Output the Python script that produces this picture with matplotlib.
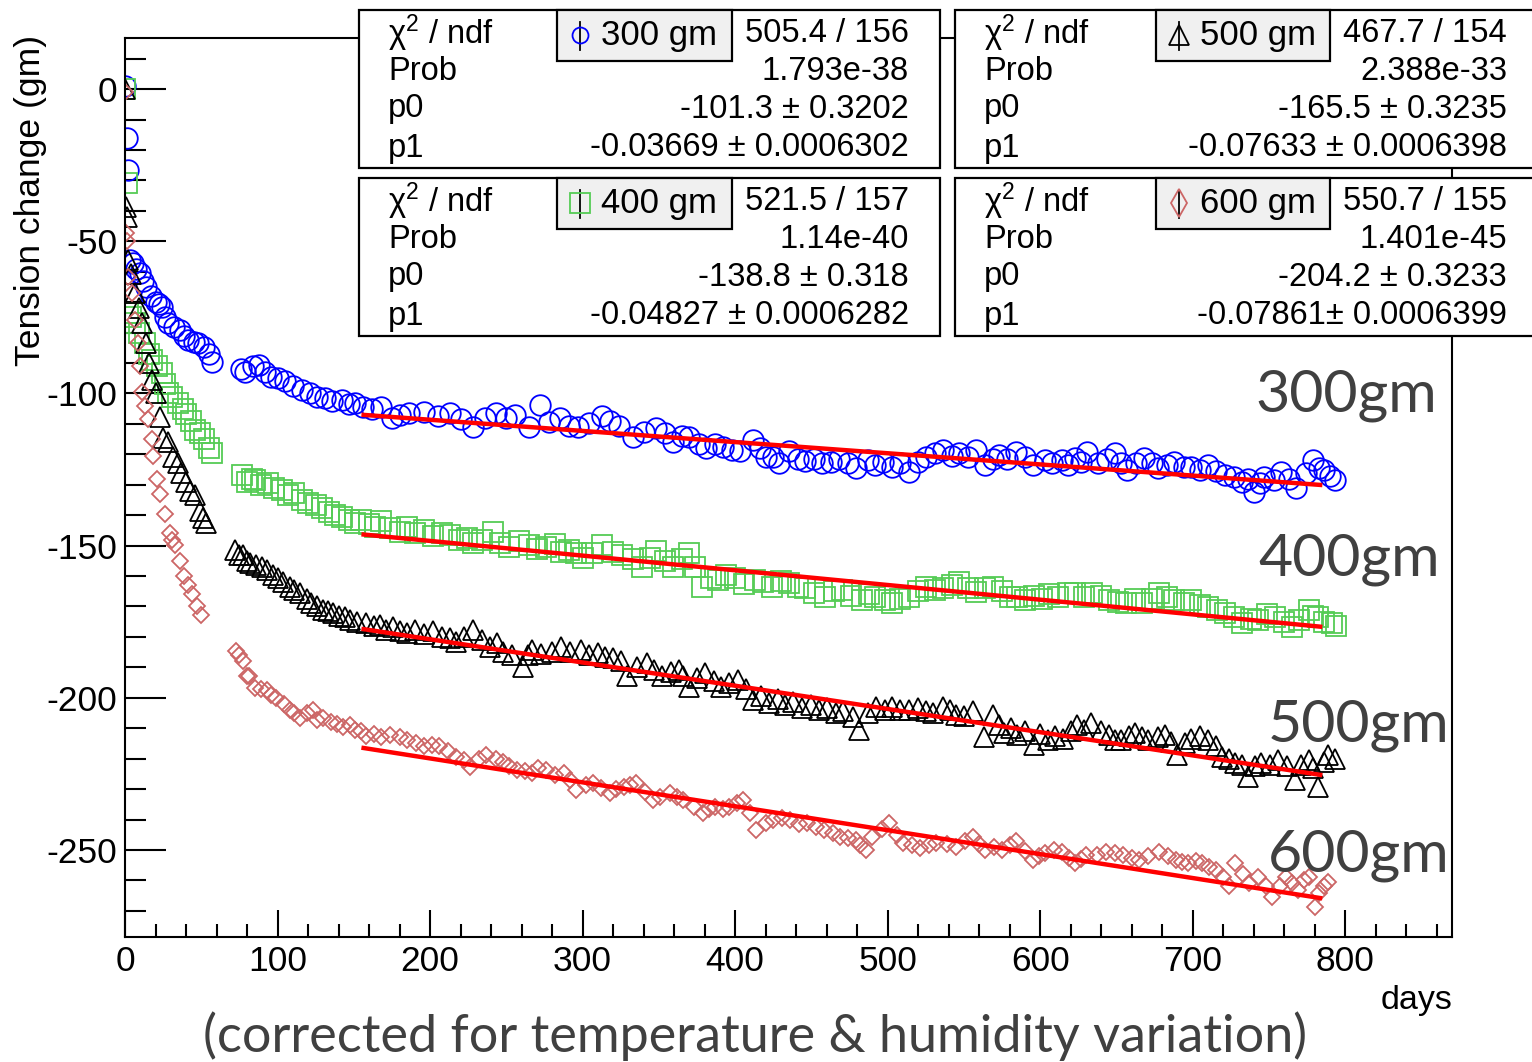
import matplotlib
matplotlib.use('Agg')
import matplotlib.pyplot as plt
from matplotlib.patches import Rectangle
from matplotlib.ticker import MultipleLocator
import numpy as np

plt.rcParams['font.family'] = ['Liberation Sans', 'DejaVu Sans']
plt.rcParams['axes.unicode_minus'] = False
plt.rcParams['mathtext.fontset'] = 'custom'
plt.rcParams['mathtext.rm'] = 'Liberation Sans'
plt.rcParams['mathtext.it'] = 'Liberation Sans:italic'
plt.rcParams['mathtext.bf'] = 'Liberation Sans:bold'

# ---------------- data ----------------
days_300 = [0, 1, 2, 3, 5, 7, 10, 12, 14, 17, 20, 22, 24, 26, 28, 32, 36, 39, 41, 45, 48, 52, 55, 57,
            76, 79, 84, 88, 92, 96, 100, 105, 110, 116, 121, 126, 131, 136, 142, 147, 151, 156, 162, 168, 175,
            180, 186, 196, 205, 213, 220, 228, 236, 243, 250, 256, 265, 272, 278, 285, 291, 297, 304, 313, 318,
            324, 333, 340, 348, 354, 359, 365, 370, 376, 381, 387, 392, 398, 403, 412, 416, 420, 425, 429, 435,
            441, 446, 452, 457, 463, 468, 474, 479, 487, 492, 497, 503, 508, 514, 520, 525, 531, 536, 542, 547,
            553, 558, 564, 569, 573, 578, 584, 590, 595, 603, 608, 614, 618, 623, 627, 631, 638, 644, 649, 653,
            657, 663, 668, 673, 677, 683, 688, 694, 699, 705, 710, 715, 721, 727, 732, 736, 740, 744, 747, 753,
            758, 763, 768, 774, 779, 783, 786, 790, 793]
tension_300 = [1, -16, -26.6, -56, -57, -59, -60.5, -63, -65, -68, -70, -70.5, -71.5, -75, -77, -78, -79, -81,
               -82.5, -83, -83.5, -84.6, -87, -89.6,
               -92, -93, -91, -90.7, -93, -94.5, -95, -96, -97.5, -99, -100, -101, -101.5, -102.5, -102, -103.5,
               -103, -104.5, -105, -104.4, -108,
               -107, -106.5, -106, -107.5, -106.5, -108.5, -111, -108, -106.5, -108, -107, -111, -103.8, -109.5,
               -108, -110.6, -111, -109.6, -107.5, -109, -110.6, -114.2, -112.5, -111.5, -113, -115.9, -114,
               -114.2, -116.5, -118, -116.5, -117.5, -118.5, -119, -115.4, -118, -120.8, -121, -123, -119,
               -121.5, -122.3, -121.5, -123, -122.5, -121.5, -123, -124.6, -122, -123.5, -122.5, -124, -123,
               -125.7, -122.5, -120.8, -119.5, -118.6, -120.5, -119.7, -121, -118.6, -123.5, -121.5, -120.2,
               -121.5, -119.1, -121, -123.5, -121.9, -123, -121.9, -123.5, -121.3, -122.5, -119.1, -123, -121.5,
               -119.7, -123, -125.2, -123, -121.3, -123, -124.6, -123.5, -122.4, -124, -124.1, -125, -123.5,
               -125.5, -126.8, -127.5, -129, -128, -132.3, -129.5, -127.4, -128.5, -125.7, -128, -131.2, -126,
               -121.9, -124.5, -125.2, -127, -128.5]

days_400 = [0, 1, 2, 4, 6.5, 9, 13, 16, 18, 21, 24, 26, 28, 31, 35, 38, 40, 43, 46, 49, 52, 55, 57,
            77, 80, 83, 85, 89, 94, 98, 103, 107, 111, 116, 120, 125, 129, 134, 138, 142, 147, 151, 155, 160,
            164, 168, 174, 180, 185, 190, 196, 202, 208, 213, 219, 224, 228, 234, 241, 246, 252, 258, 265, 270,
            276, 282, 286, 291, 296, 300, 306, 313, 320, 326, 333, 339, 344, 348, 354, 359, 365, 370, 374, 378,
            384, 389, 394, 400, 406, 413, 418, 424, 430, 435, 441, 446, 452, 459, 465, 470, 476, 483, 488, 492,
            498, 503, 508, 514, 520, 525, 531, 536, 542, 547, 553, 558, 564, 569, 575, 580, 585, 590, 596, 601,
            606, 612, 618, 623, 629, 634, 640, 645, 651, 656, 662, 667, 673, 678, 683, 688, 694, 699, 705, 710,
            716, 721, 727, 732, 738, 743, 749, 754, 760, 765, 770, 776, 779, 782, 786, 791, 794]
tension_400 = [0, -30.8, -73.6, -75, -77, -80, -83.5, -87, -89, -91, -93.4, -97, -100, -101, -103, -105,
               -106.6, -109, -112, -113, -115, -118, -119.6,
               -126.8, -129, -128, -128.5, -130, -129.5, -131, -131.7, -133.5, -132.8, -135, -136, -136.5,
               -137.6, -139, -140, -140.5, -141.5, -142.5, -141.6, -143, -144, -142, -144.3, -145.5, -144, -146,
               -144.9, -147, -146, -146.5, -148, -147.5, -149.3, -148, -145.4, -149, -150.3, -148.5, -149.8,
               -151, -150.3, -149.5, -152, -151.4, -152.5, -154.2, -152.5, -149.8, -152, -153, -154.5, -156.9,
               -154, -151.9, -155, -156.9, -154.5, -152.5, -157, -163.5, -160.5, -161.3, -159.5, -160.7, -162.5,
               -161.3, -162, -163.5, -161.5, -162.4, -163.5, -164, -165.5, -166.8, -165, -164.6, -166.5, -167.9,
               -166, -166.8, -168, -169, -167.5, -166.8, -165, -163.5, -164.5, -164, -163, -161.8, -164, -165.1,
               -164, -163.5, -165, -166.8, -167, -167.9, -166.5, -167.4, -166, -166.8, -165.5, -165.7, -167,
               -165.7, -166.5, -167.9, -168.5, -169, -167.5, -169, -167.5, -165.7, -167, -167.9, -169, -167.9,
               -169.5, -170.1, -171, -172.3, -173.5, -175.5, -174, -174.4, -172.5, -173.3, -175, -176.6, -174.5,
               -171.2, -173, -173.3, -175, -175.5, -176.5]

days_500 = [0, 0.5, 1, 2, 4, 6.5, 9, 11, 14, 16, 17.5, 20, 23, 25, 28, 31.7, 35, 37, 40, 42.6, 46, 49, 51, 53,
            72, 75, 77.6, 80, 82, 86, 90, 93, 97, 100, 103.6, 108, 111, 115, 119, 122, 125.6, 130, 133, 136.5,
            140, 144, 147.5, 152, 158, 163, 167, 171, 176, 180, 184.6, 190, 196, 202, 208, 213, 217, 222, 228,
            234, 239, 244, 248, 254, 261, 264, 267, 273, 280, 286, 292, 299, 304, 310, 315, 320, 325, 329, 336,
            342, 347, 352, 358, 363, 366, 370, 375, 380, 386, 391, 396, 402, 407, 412, 417, 422, 428, 433, 438,
            444, 450, 455, 460, 466, 471, 477, 481, 487, 492.5, 498, 503, 508, 514, 520, 525, 530, 536, 541, 545,
            550, 556, 563, 569, 573, 576, 581, 585, 590, 596, 600, 605, 610, 615, 620, 624, 629, 633, 640, 645,
            649, 653, 658, 662, 667, 671, 677, 682, 686, 690, 695, 699, 705, 710, 715, 719, 724, 728, 732, 736,
            741, 745, 751, 756, 762, 767, 771, 776, 779, 782, 786, 789, 793]
tension_500 = [0, -38.7, -42, -56, -60.6, -67, -72, -77, -83.5, -90, -95.6, -100, -107.6, -114.5, -116, -121,
               -123, -126, -129, -132, -133.5, -138.6, -141, -142.6,
               -151.4, -153, -153, -155, -155.8, -156.5, -157, -158, -159.5, -160.5, -162, -163.5, -164.5,
               -165.6, -167.5, -169, -170, -171, -171.5, -172, -173, -173.5, -174.4, -175, -175.5, -176.5, -176,
               -177.7, -176.6, -178, -178.8, -177.7, -179, -178.2, -180, -180.5, -181.6, -180, -177.7, -181,
               -183.2, -182, -184.8, -186, -189.8, -186, -184.3, -185.5, -184.8, -183.2, -185, -184.3, -186,
               -185.4, -186.5, -187, -188, -193, -190, -188.7, -191, -193, -191.5, -190.9, -193, -196.3, -193.5,
               -192, -194.5, -196.3, -195, -194.1, -197, -200.7, -199.5, -201.8, -200.5, -202.4, -201.5, -203.5,
               -202.5, -204, -203.5, -205.1, -204.5, -206.2, -210.6, -205, -202.9, -204, -202.9, -204, -204,
               -203.5, -204.5, -205, -202.9, -204, -205.6, -206, -204.5, -212.8, -205.6, -209, -211.7, -210,
               -212.3, -211, -215.5, -212, -213.9, -212.5, -213.4, -211, -209, -210.5, -208.4, -211, -212.3,
               -214, -213.9, -212.5, -211.7, -213, -213.9, -213, -212.3, -214.5, -218.8, -215, -213.4, -212.5,
               -213.9, -216, -219.3, -220, -221.5, -222, -225.9, -222.5, -221.5, -222, -220.4, -222.5, -227,
               -222, -220.4, -223, -229.2, -221, -218.8, -220]

days_600 = [0, 0.5, 1, 2, 4.4, 6.5, 8.7, 10, 11, 13, 15, 17.5, 18.6, 21, 23, 26, 29.5, 31, 33, 36, 39, 41,
            43.7, 47, 50,
            73, 75, 77.6, 80, 81, 85, 89, 93, 96, 99, 104, 108, 111, 115, 119, 123, 125.6, 130, 135, 139, 143,
            147.5, 151, 155, 158, 163, 168, 174, 180, 185, 191, 196, 201, 206, 212, 217, 222, 226, 232, 237,
            243, 248, 252, 257, 262, 267, 271, 276, 282, 288, 292, 296, 302, 307, 312, 318, 322, 327, 331, 335,
            341, 346, 351, 357, 362, 366, 373, 379, 383, 387, 392, 396, 401, 405, 410, 414, 420, 425, 431, 436,
            442, 447, 453, 458, 464, 469, 474, 479, 482, 486, 490, 496, 501, 506, 510, 516, 521, 527, 532, 539,
            545, 551, 556, 560, 564, 570, 575, 580, 584, 590, 595, 599, 603, 609, 614, 619, 623, 627, 630, 637,
            643, 649, 654, 660, 665, 671, 678, 684, 689, 693, 697, 702, 706, 711, 715, 720, 724, 728, 733, 737,
            743, 748, 752, 757, 761, 765, 769, 773, 776, 780, 783, 786, 789]
tension_600 = [-1, -47.3, -50, -61.6, -67, -76, -83.5, -91, -99.5, -104, -108.5, -115, -120.5, -128, -133,
               -139.6, -146, -148, -149.8, -155, -160, -163, -166, -170, -172.7,
               -184.5, -186, -188, -193, -193, -196.7, -197, -197.5, -199, -200, -202, -204, -205, -206.5, -205,
               -204, -207.3, -206.8, -208, -208.5, -209.5, -209, -210.5, -211, -212.7, -212, -213, -212.2, -213,
               -213.8, -215, -216, -215.5, -216, -217.5, -219.3, -220.5, -222.6, -220, -218.8, -220, -221,
               -222.5, -223.7, -224, -224.8, -223, -223.7, -225.5, -224.8, -227, -230.3, -228.5, -228.1, -229.5,
               -231.4, -230, -229.2, -228.5, -228.1, -231, -233.6, -232.5, -231.4, -232.5, -233.6, -236, -238,
               -236.5, -235.8, -236.5, -235.8, -234.5, -233.6, -238, -243.4, -241, -240.2, -239.5, -240.2,
               -241.5, -241.3, -242.5, -243.4, -244.5, -245.6, -246, -246.7, -248.4, -250, -245.7, -243, -241.2,
               -245, -247.8, -248.5, -249.5, -248.5, -247.8, -248, -248.9, -247, -245.7, -248, -250, -249, -250,
               -248.5, -247.2, -250.5, -253.3, -252, -251.1, -250, -250.6, -252.5, -254.4, -253, -251.7, -251.5,
               -250.6, -251, -251.7, -252.5, -253.3, -252, -250.6, -252, -253.3, -254, -254.4, -253.5, -254.4,
               -255.5, -256.6, -259, -262, -254.4, -258, -260.9, -258.8, -262, -265.3, -262, -258.8, -261,
               -263.1, -260, -258.8, -268.6, -264, -262, -260.5]

# fit results shown in the stat boxes
load_labels = ['300 gm', '400 gm', '500 gm', '600 gm']
chi2_ndf = ['505.4 / 156', '521.5 / 157', '467.7 / 154', '550.7 / 155']
prob = ['1.793e-38', '1.14e-40', '2.388e-33', '1.401e-45']
p0_text = ['-101.3 \u00b1 0.3202', '-138.8 \u00b1 0.318', '-165.5 \u00b1 0.3235', '-204.2 \u00b1 0.3233']
p1_text = ['-0.03669 \u00b1 0.0006302', '-0.04827 \u00b1 0.0006282', '-0.07633 \u00b1 0.0006398',
           '-0.07861\u00b1 0.0006399']
fit_p0 = [-101.3, -138.8, -165.5, -204.2]
fit_p1 = [-0.03669, -0.04827, -0.07633, -0.07861]
fit_range = [155, 785]
side_labels = ['300gm', '400gm', '500gm', '600gm']

# ---------------- figure ----------------
W, H = 1532, 1062
fig = plt.figure(figsize=(W / 100, H / 100), dpi=100)
fig.patch.set_facecolor('white')
ax = fig.add_axes([125 / W, 1 - 937 / H, (1452 - 125) / W, (937 - 38) / H])
ax.set_xlim(0, 870)
ax.set_ylim(-278.6, 16.8)

styles = [
    dict(marker='o', ms=14.8, mec='#0000ff'),
    dict(marker='s', ms=14.0, mec='#55cc55'),
    dict(marker='^', ms=14.5, mec='#000000'),
    dict(marker='D', ms=7.8, mec='#cc6666'),
]
data = [(days_300, tension_300), (days_400, tension_400), (days_500, tension_500), (days_600, tension_600)]
for (d, v), st in zip(data, styles):
    ax.plot(d, v, linestyle='none', mfc='none', mew=1.3, **st)

xs = np.array(fit_range, dtype=float)
for p0, p1 in zip(fit_p0, fit_p1):
    ax.plot(xs, p0 + p1 * xs, color='#ff0000', lw=3.2, solid_capstyle='butt', zorder=4)

ax.xaxis.set_major_locator(MultipleLocator(100))
ax.xaxis.set_minor_locator(MultipleLocator(20))
ax.yaxis.set_major_locator(MultipleLocator(50))
ax.yaxis.set_minor_locator(MultipleLocator(10))
ax.tick_params(which='both', direction='in', top=False, right=False, width=1.5, color='black')
ax.tick_params(axis='y', which='major', length=29.5, labelsize=25.5, pad=5.5)
ax.tick_params(axis='y', which='minor', length=15)
ax.tick_params(axis='x', which='major', length=19.5, labelsize=25.5, pad=6)
ax.tick_params(axis='x', which='minor', length=9.5)
for sp in ax.spines.values():
    sp.set_linewidth(1.5)

fig.text(31 / W, 1 - 35 / H, 'Tension change (gm)', rotation=90, ha='center', va='top', fontsize=25.5)
fig.text(1452 / W, 1 - 1000 / H, 'days', ha='right', va='center', fontsize=24.5)
fig.text(755 / W, 1 - 1036 / H, '(corrected for temperature & humidity variation)', ha='center', va='center',
         fontsize=37.5, family=['Lato', 'DejaVu Sans'], color='#404040')

# ---------------- overlay in pixel coordinates ----------------
ov = fig.add_axes([0, 0, 1, 1])
ov.set_xlim(0, W)
ov.set_ylim(H, 0)
ov.axis('off')
ov.patch.set_alpha(0)
ov.set_zorder(10)

# big labels
side_pos = [(1255, 412), (1258, 576), (1268, 741), (1268, 871)]
for lab, (x, y) in zip(side_labels, side_pos):
    ov.text(x, y, lab, ha='left', va='baseline', fontsize=42.5, family=['Lato', 'DejaVu Sans'], color='#404040')

# stat boxes
boxes = [
    dict(x0=359, x1=940, y0=10, y1=168, tx0=557, tx1=732),
    dict(x0=359, x1=940, y0=178, y1=336, tx0=557, tx1=732),
    dict(x0=955, x1=1545, y0=10, y1=168, tx0=1156, tx1=1330),
    dict(x0=955, x1=1545, y0=178, y1=336, tx0=1156, tx1=1330),
]
legend_marker = [
    dict(marker='o', ms=11.5, mec='#0000ff'),
    dict(marker='s', ms=14.5, mec='#55cc55'),
    dict(marker='^', ms=14.0, mec='#000000'),
    dict(marker='d', ms=14.0, mec='#cc6666'),
]
right_x = [909, 909, 1507, 1507]
for i, b in enumerate(boxes):
    ov.add_patch(Rectangle((b['x0'], b['y0']), b['x1'] - b['x0'], b['y1'] - b['y0'],
                           facecolor='white', edgecolor='black', lw=1.6, zorder=1))
    ov.add_patch(Rectangle((b['tx0'], b['y0']), b['tx1'] - b['tx0'], 51,
                           facecolor='#f0f0f0', edgecolor='black', lw=1.6, zorder=2))
    rows = [b['y0'] + 23, b['y0'] + 62, b['y0'] + 99, b['y0'] + 138]
    lx = b['x0'] + 29
    rx = right_x[i]
    labels_left = ['\u03c7$^{2}$ / ndf', 'Prob', 'p0', 'p1']
    labels_right = [chi2_ndf[i], prob[i], p0_text[i], p1_text[i]]
    for yy, ll, rr in zip(rows, labels_left, labels_right):
        ov.text(lx, yy, ll, ha='left', va='center', fontsize=23.5, zorder=3)
        ov.text(rx, yy, rr, ha='right', va='center', fontsize=23.5, zorder=3)
    mx = b['tx0'] + 23
    my = b['y0'] + 25
    ov.plot([mx, mx], [my - 13, my + 15], color='black', lw=1.3, zorder=3)
    ov.plot([mx], [my], linestyle='none', mfc='none', mew=1.3, zorder=4, **legend_marker[i])
    ov.text(b['tx0'] + 44, my, load_labels[i], ha='left', va='center', fontsize=25, zorder=3)

fig.savefig('out.png', dpi=100)
